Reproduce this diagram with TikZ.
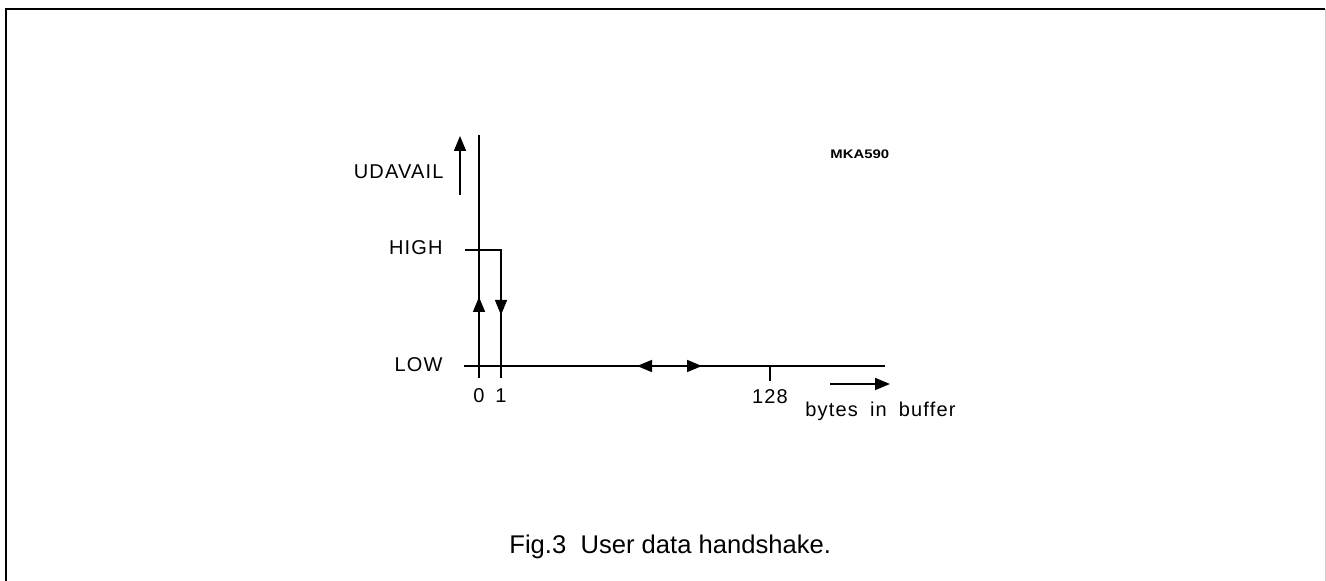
\documentclass[tikz,border=0pt]{standalone}
\usepackage{fontspec}
\setmainfont{Liberation Sans}
\newfontfamily\plotfont[LetterSpace=6]{Liberation Sans}
\usetikzlibrary{arrows.meta}
\begin{document}
\begin{tikzpicture}[x=0.5pt,y=-0.5pt,
    axis/.style={line width=0.8pt},
    lbl/.style={font=\plotfont\fontsize{10}{12}\selectfont,inner sep=0pt},
    tip/.style={-{Triangle[length=7.5pt,width=6pt]}},
    dbl/.style={{Triangle[length=7.5pt,width=6pt]}-{Triangle[length=7.5pt,width=6pt]}}]
  \useasboundingbox (0,0) rectangle (1326,581);
  % frame
  \draw[line width=1pt] (6,581) -- (6,9.5) -- (1325,9.5);
  \draw[gray!40,line width=0.5pt] (1325,9.5) -- (1325,581);
  % points
  \coordinate (top) at (479,135);
  \coordinate (bot0) at (479,378);
  \coordinate (o) at (479,366);
  \coordinate (hi) at (465,250);
  \coordinate (hi1) at (501,250);
  \coordinate (bot1) at (501,378);
  \coordinate (lowst) at (464,366);
  \coordinate (lowend) at (885,366);
  \coordinate (up) at (479,297);
  \coordinate (dn) at (501,315);
  \coordinate (lt) at (637,366);
  \coordinate (rt) at (702,366);
  \coordinate (t128) at (770,366);
  \coordinate (t128b) at (770,381);
  \coordinate (ua) at (460,195);
  \coordinate (ub) at (460,136);
  \coordinate (ba) at (830,384);
  \coordinate (bb) at (890,384);
  % labels
  \node[lbl,anchor=base east] (udavail) at (444,179) {UDAVAIL};
  \node[lbl,anchor=base east] (high) at (443,255) {HIGH};
  \node[lbl,anchor=base east] (low) at (443,372) {LOW};
  \node[lbl,anchor=base] (n0) at (479,403) {0};
  \node[lbl,anchor=base] (n1) at (501,403) {1};
  \node[lbl,anchor=base] (n128) at (770,404) {128};
  \node[lbl,anchor=base west] (bytes) at (805,417) {bytes\hspace{0.6em}in\hspace{0.6em}buffer};
  \node[inner sep=0pt,anchor=base west,font=\bfseries\fontsize{6.2}{7}\selectfont] (mka) at (830,159) {\scalebox{1.2}[1]{MKA590}};
  \node[inner sep=0pt,anchor=base west,font=\fontsize{12.8}{15}\selectfont] (caption) at (509,553) {Fig.3\ \ User data handshake.};
  % lines
  \begin{scope}[axis]
    \draw (top) -- (bot0);
    \draw (lowst) -- (lowend);
    \draw (t128) -- (t128b);
    \draw[tip] (ua) -- (ub);
    \draw[tip] (ba) -- (bb);
    \draw[tip] (o) -- (up);
    \draw[dbl] (lt) -- (rt);
  \end{scope}
  \begin{scope}[line width=0.6pt]
    \draw (hi) -- (hi1) -- (bot1);
    \draw[tip] (hi1) -- (dn);
  \end{scope}
\end{tikzpicture}
\end{document}
